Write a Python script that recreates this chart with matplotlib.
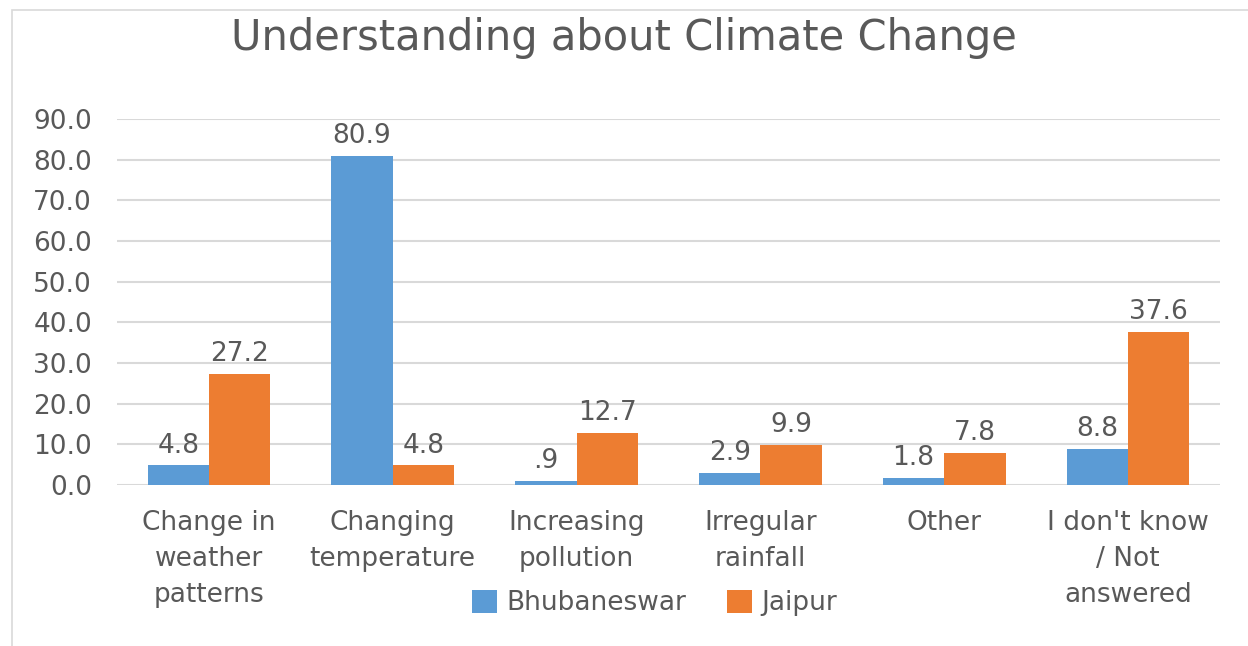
import matplotlib
matplotlib.use("Agg")
import matplotlib.pyplot as plt
import numpy as np
from matplotlib.patches import Rectangle

categories = ["Change in\nweather\npatterns", "Changing\ntemperature", "Increasing\npollution",
              "Irregular\nrainfall", "Other", "I don't know\n/ Not\nanswered"]
bhubaneswar = [4.8, 80.9, 0.9, 2.9, 1.8, 8.8]
jaipur = [27.2, 4.8, 12.7, 9.9, 7.8, 37.6]
series_names = ["Bhubaneswar", "Jaipur"]
y_ticks = [0, 10, 20, 30, 40, 50, 60, 70, 80, 90]

BLUE = "#5B9BD5"
ORANGE = "#ED7D31"
TEXT = "#595959"
GRID = "#D9D9D9"

plt.rcParams["font.family"] = ["DejaVu Sans"]
LBL = 19

W, H = 1248, 646
fig = plt.figure(figsize=(W / 100, H / 100), dpi=100)

# chart frame
fig.patches.append(Rectangle((12 / W, -0.1), 1.2, 1 - 10 / H + 0.1, transform=fig.transFigure,
                             fill=False, edgecolor="#D9D9D9", linewidth=1.2))

ax = fig.add_axes([117 / W, 1 - 485 / H, (1220 - 117) / W, (485 - 119) / H])

x = np.arange(len(categories))
bw = 1 / 3
b1 = ax.bar(x - bw / 2, bhubaneswar, bw, color=BLUE, label=series_names[0], zorder=3)
b2 = ax.bar(x + bw / 2, jaipur, bw, color=ORANGE, label=series_names[1], zorder=3)


def fmt(v):
    s = f"{v:.1f}"
    return s[1:] if s.startswith("0.") else s


for bars, vals in ((b1, bhubaneswar), (b2, jaipur)):
    ax.bar_label(bars, labels=[fmt(v) for v in vals], padding=5, fontsize=LBL, color=TEXT)

ax.set_xlim(-0.5, len(categories) - 0.5)
ax.set_ylim(0, 90)
ax.set_yticks(y_ticks)
ax.set_yticklabels([f"{t:.1f}" for t in y_ticks])
ax.set_xticks(x)
ax.set_xticklabels(categories, linespacing=1.5)
ax.tick_params(axis="y", length=0, pad=18, labelsize=LBL, labelcolor=TEXT)
ax.tick_params(axis="x", length=0, pad=18, labelsize=LBL, labelcolor=TEXT)
for s in ax.spines.values():
    s.set_visible(False)
ax.yaxis.grid(True, color=GRID, linewidth=1.5, zorder=0)
ax.set_axisbelow(True)

fig.text(0.5, 1 - 38 / H, "Understanding about Climate Change", ha="center", va="center",
         fontsize=30, color=TEXT)

fig.legend(handles=[b1, b2], labels=series_names, loc="center", bbox_to_anchor=(0.5245, 1 - 603 / H),
           ncol=2, frameon=False, fontsize=LBL, labelcolor=TEXT, handlelength=0.95, handleheight=0.95,
           handletextpad=0.35, columnspacing=1.55)

fig.savefig("out.png", dpi=100, facecolor="white")
